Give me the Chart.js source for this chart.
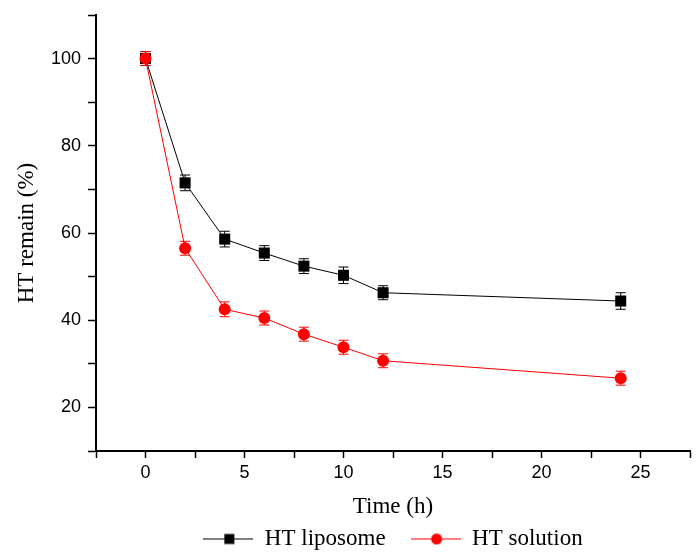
<!DOCTYPE html>
<html>
<head>
<meta charset="utf-8">
<script src="https://cdn.jsdelivr.net/npm/chart.js@4.4.1/dist/chart.umd.min.js"></script>
<style>
  html, body { margin: 0; padding: 0; background: #fff; }
  #wrap { width: 700px; height: 560px; }
</style>
</head>
<body>
<div id="wrap"><canvas id="linechart"></canvas></div>
<script>
// data
var times = [0, 2, 4, 6, 8, 10, 12, 24];
var liposome = [100, 71.5, 58.6, 55.4, 52.4, 50.3, 46.3, 44.4];
var liposomeErr = [1.6, 1.8, 1.8, 1.7, 1.7, 1.9, 1.6, 1.9];
var solution = [100, 56.5, 42.5, 40.5, 36.8, 33.8, 30.7, 26.7];
var solutionErr = [1.6, 1.6, 1.7, 1.6, 1.6, 1.6, 1.6, 1.6];

function points(vals) {
    return times.map(function (t, i) { return { x: t, y: vals[i] }; });
}

// small picture for the legend: line with the marker in the middle
function legendIcon(color, shape) {
    var c = document.createElement('canvas');
    c.width = 50; c.height = 14;
    var g = c.getContext('2d');
    g.strokeStyle = color; g.lineWidth = 1;
    g.beginPath(); g.moveTo(0, 7.5); g.lineTo(50, 7.5); g.stroke();
    g.fillStyle = color;
    if (shape === 'rect') {
        g.fillRect(21, 2.5, 10, 10);
    } else {
        g.beginPath(); g.arc(26, 7.5, 5.5, 0, Math.PI * 2); g.fill();
    }
    return c;
}

var errorBars = {
    id: 'errorBars',
    beforeDatasetsDraw: function (chart) {
        var ctx = chart.ctx, x = chart.scales.x, y = chart.scales.y;
        chart.data.datasets.forEach(function (ds) {
            ctx.save();
            ctx.strokeStyle = ds.borderColor;
            ctx.lineWidth = 1;
            ds.data.forEach(function (p, j) {
                var px = x.getPixelForValue(p.x);
                var top = y.getPixelForValue(p.y + ds.errors[j]);
                var bot = y.getPixelForValue(p.y - ds.errors[j]);
                ctx.beginPath();
                ctx.moveTo(px, top); ctx.lineTo(px, bot);
                ctx.moveTo(px - 5, top); ctx.lineTo(px + 5, top);
                ctx.moveTo(px - 5, bot); ctx.lineTo(px + 5, bot);
                ctx.stroke();
            });
            ctx.restore();
        });
    }
};

var icons = [legendIcon('#000000', 'rect'), legendIcon('#ff0000', 'circle')];

var chart1 = document.getElementById('linechart');
var myChart1 = new Chart(chart1, {
type: 'line',
data: {
    datasets: [{
        label: 'HT liposome',
        data: points(liposome),
        errors: liposomeErr,
        borderColor: '#000000',
        backgroundColor: '#000000',
        borderWidth: 1,
        pointStyle: 'rect',
        pointRadius: 7.8,
        pointHoverRadius: 7.8,
        pointBorderWidth: 0,
        order: 1
    }, {
        label: 'HT solution',
        data: points(solution),
        errors: solutionErr,
        borderColor: '#ff0000',
        backgroundColor: '#ff0000',
        borderWidth: 1,
        pointStyle: 'circle',
        pointRadius: 6,
        pointHoverRadius: 6,
        pointBorderWidth: 0,
        order: 0
    }]
},
options: {
    responsive: true,
    maintainAspectRatio: false,
    animation: false,
    layout: {
        padding: { top: 15, right: 10, bottom: 0, left: 0 }
    },
    scales: {
        x: {
            type: 'linear',
            min: -2.5,
            max: 27.5,
            border: { display: true, color: '#000', width: 2 },
            grid: { drawOnChartArea: false, drawTicks: true, tickLength: 7, tickColor: '#000', tickWidth: 1.5 },
            ticks: {
                stepSize: 2.5,
                autoSkip: false,
                maxRotation: 0,
                color: '#000',
                padding: 4,
                font: { family: 'Liberation Sans', size: 18 },
                callback: function (v) { return v % 5 === 0 ? v : ''; }
            },
            title: {
                display: true,
                text: 'Time (h)',
                color: '#000',
                font: { family: 'Liberation Serif', size: 23, lineHeight: 1 },
                padding: { top: 0, bottom: -16 }
            },
            afterFit: function (s) { s.height = 51; }
        },
        y: {
            min: 10,
            max: 110,
            border: { display: true, color: '#000', width: 2 },
            grid: { drawOnChartArea: false, drawTicks: true, tickLength: 8, tickColor: '#000', tickWidth: 1.5 },
            ticks: {
                stepSize: 10,
                color: '#000',
                padding: 7,
                font: { family: 'Liberation Sans', size: 18 },
                callback: function (v) { return v % 20 === 0 ? v : ''; }
            },
            title: {
                display: true,
                text: 'HT remain (%)',
                color: '#000',
                font: { family: 'Liberation Serif', size: 23 },
                padding: { top: 13, bottom: 0 }
            },
            afterFit: function (s) {
                s.width = 96;
                s.paddingTop = 0;
                s.paddingBottom = 0;
            }
        }
    },
    plugins: {
        legend: {
            display: true,
            position: 'bottom',
            fullSize: false,
            labels: {
                usePointStyle: true,
                pointStyleWidth: 50,
                padding: 25,
                color: '#000',
                font: { family: 'Liberation Serif', size: 23 },
                generateLabels: function (chart) {
                    return chart.data.datasets.map(function (ds, i) {
                        return {
                            text: ds.label,
                            pointStyle: icons[i],
                            fillStyle: ds.backgroundColor,
                            strokeStyle: ds.borderColor,
                            lineWidth: 0,
                            fontColor: '#000',
                            hidden: false,
                            datasetIndex: i
                        };
                    });
                }
            }
        },
        tooltip: { enabled: false }
    }
},
plugins: [errorBars]
});
</script>
</body>
</html>
